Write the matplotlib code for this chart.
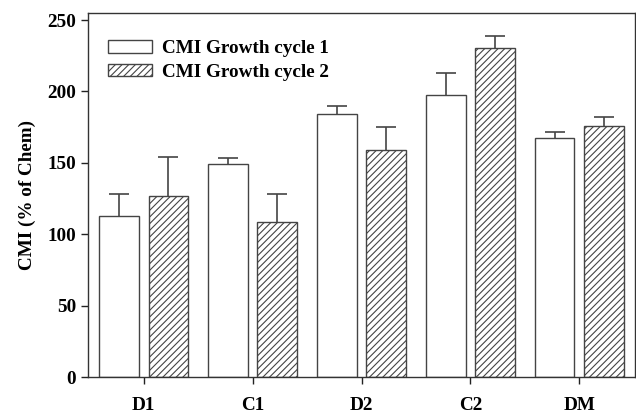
import matplotlib
matplotlib.use("Agg")
import matplotlib.pyplot as plt
import numpy as np

categories = ["D1", "C1", "D2", "C2", "DM"]
cycle1 = [112.8, 149.2, 183.9, 197.2, 167.1]
cycle1_err = [15.2, 3.9, 5.8, 15.4, 4.7]
cycle2 = [126.8, 108.8, 158.7, 230.3, 175.7]
cycle2_err = [27.0, 19.2, 16.5, 8.2, 6.1]
series_labels = ["CMI Growth cycle 1", "CMI Growth cycle 2"]
yticks = [0, 50, 100, 150, 200, 250]

plt.rcParams['font.family'] = ['Liberation Serif', 'DejaVu Serif']
plt.rcParams['font.weight'] = 'bold'
plt.rcParams['hatch.linewidth'] = 0.8
plt.rcParams['hatch.color'] = '#222222'

fig = plt.figure(figsize=(6.36, 4.13), dpi=100)
ax = fig.add_axes([88 / 636, 1 - 377.3 / 413, (635 - 88) / 636, (377.3 - 13) / 413])

x = np.arange(len(categories))
w = 0.365
off = 0.228
edge = '#444444'
fs = 13.8

# upper-only error bars; the lower cap is hidden
for xs, vals, errs in [(x - off, cycle1, cycle1_err), (x + off, cycle2, cycle2_err)]:
    eb = ax.errorbar(xs, vals, yerr=[np.zeros(len(vals)), errs], fmt='none',
                     ecolor='#444444', elinewidth=1.2, capsize=7, capthick=1.2, zorder=1)
    eb.lines[1][0].set_visible(False)

ax.bar(x - off, cycle1, w, color='white', edgecolor=edge, linewidth=1.0,
       label=series_labels[0], zorder=2)
ax.bar(x + off, cycle2, w, color='white', edgecolor=edge, linewidth=1.0,
       hatch='/////', label=series_labels[1], zorder=2)

ax.set_xlim(-0.51, 4.51)
ax.set_ylim(0, 254.9)
ax.set_xticks(x)
ax.set_xticklabels(categories)
ax.set_yticks(yticks)
ax.tick_params(axis='both', direction='out', length=5, width=1, labelsize=fs, color='#222222')
ax.tick_params(axis='x', pad=9)
for s in ax.spines.values():
    s.set_color('#333333')
    s.set_linewidth(1.0)

ax.set_ylabel("CMI (% of Chem)", fontsize=fs, fontweight='bold', labelpad=8)

leg = ax.legend(loc='upper left', bbox_to_anchor=(0.036, 0.925), frameon=False,
                fontsize=fs, handlelength=2.3, handleheight=0.6,
                handletextpad=0.55, labelspacing=0.35, borderaxespad=0.0,
                borderpad=0.0)

fig.savefig("out.png", dpi=100)
